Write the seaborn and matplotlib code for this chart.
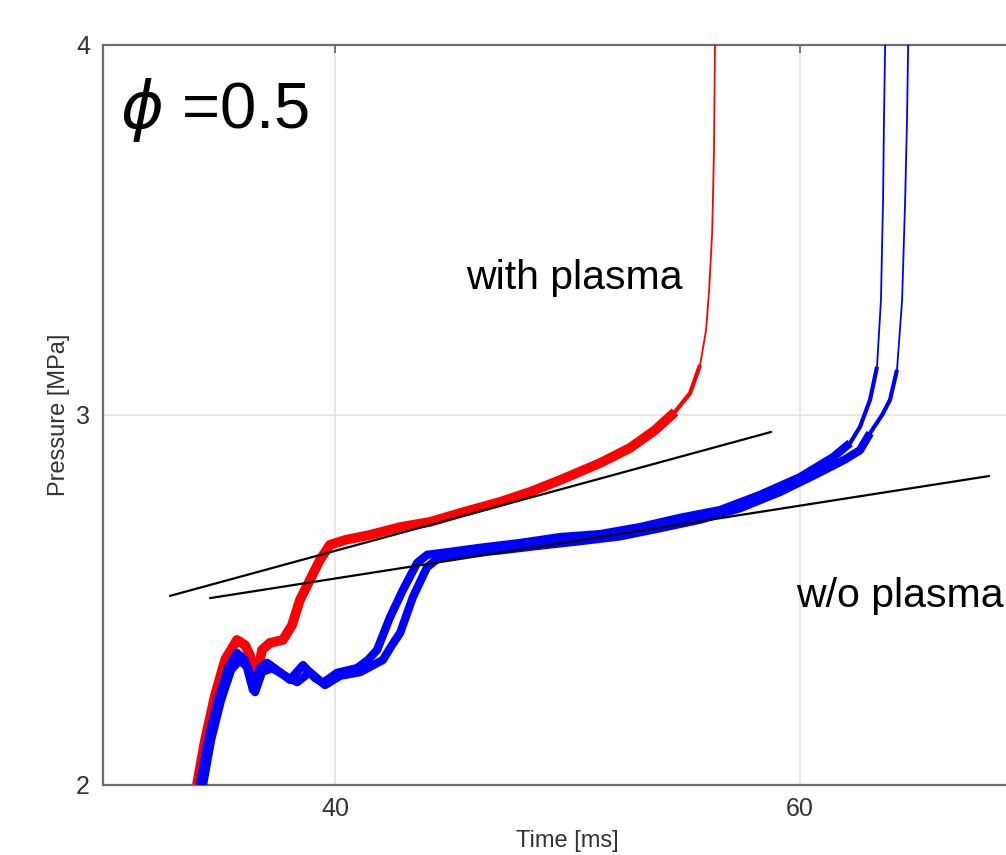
import numpy as np
import pandas as pd
import seaborn as sns
import matplotlib.pyplot as plt

# pressure traces (time in ms, pressure in MPa)
red_t = [34.06, 34.41, 34.84, 35.27, 35.78, 36.13, 36.34, 36.60, 36.86, 37.20, 37.76, 38.15,
         38.49, 38.92, 39.35, 39.78, 40.43, 41.51, 42.80, 44.09, 45.38, 47.10, 48.39, 49.68,
         51.40, 52.69, 53.76, 54.62, 55.27, 55.70, 55.96, 56.09, 56.22, 56.30, 56.34]
red_p = [2.000, 2.122, 2.243, 2.338, 2.392, 2.378, 2.351, 2.284, 2.365, 2.384, 2.392, 2.432,
         2.500, 2.554, 2.608, 2.649, 2.662, 2.676, 2.697, 2.711, 2.735, 2.765, 2.792, 2.824,
         2.870, 2.911, 2.959, 3.008, 3.059, 3.135, 3.230, 3.338, 3.492, 3.716, 4.000]

blueA_t = [34.19, 34.54, 34.97, 35.40, 35.78, 36.13, 36.47, 36.77, 37.08, 37.63, 38.06, 38.62,
           39.14, 39.48, 40.09, 40.95, 41.42, 41.81, 42.37, 42.92, 43.53, 43.96, 44.95, 46.24,
           47.96, 49.68, 51.40, 53.12, 54.84, 56.56, 58.28, 60.00, 61.42, 62.15, 62.58, 63.01,
           63.31, 63.48, 63.57, 63.61, 63.66]
blueA_p = [2.000, 2.122, 2.230, 2.316, 2.357, 2.338, 2.257, 2.316, 2.330, 2.305, 2.284, 2.324,
           2.289, 2.276, 2.303, 2.316, 2.338, 2.365, 2.454, 2.527, 2.600, 2.622, 2.630, 2.641,
           2.654, 2.670, 2.678, 2.697, 2.722, 2.743, 2.784, 2.832, 2.886, 2.924, 2.968, 3.041,
           3.130, 3.311, 3.581, 3.797, 4.000]

blueB_t = [34.32, 34.67, 35.10, 35.53, 35.91, 36.26, 36.56, 36.86, 37.29, 37.85, 38.37, 38.92,
           39.57, 40.22, 41.08, 41.59, 42.06, 42.45, 42.80, 43.35, 43.96, 44.52, 45.38, 47.10,
           48.82, 50.54, 52.26, 53.98, 55.70, 57.42, 59.14, 60.86, 61.94, 62.58, 63.01, 63.53,
           63.87, 64.17, 64.39, 64.52, 64.60, 64.65]
blueB_p = [2.000, 2.122, 2.230, 2.311, 2.338, 2.316, 2.251, 2.305, 2.316, 2.295, 2.278, 2.305,
           2.270, 2.295, 2.305, 2.322, 2.338, 2.378, 2.411, 2.508, 2.589, 2.616, 2.624, 2.634,
           2.647, 2.659, 2.672, 2.694, 2.717, 2.748, 2.792, 2.845, 2.880, 2.905, 2.951, 3.000,
           3.041, 3.122, 3.311, 3.581, 3.797, 4.000]

# tangent lines drawn by hand on the plateau
tan1_t = [32.90, 58.75]
tan1_p = [2.511, 2.954]
tan2_t = [34.62, 68.13]
tan2_p = [2.505, 2.835]

sns.set_style('white')
plt.rcParams['font.family'] = ['Liberation Sans', 'DejaVu Sans']
plt.rcParams['mathtext.fontset'] = 'dejavusans'

fig = plt.figure(figsize=(10.06, 8.55), dpi=100)
ax = fig.add_axes([0.1019, 0.0819, 0.9245, 0.8655])

ax.grid(True, color='#e3e3e3', lw=1.2, zorder=0)

def trace(t, p, color, lw_noisy, cut):
    df = pd.DataFrame({'t': t, 'p': p})
    # noisy plateau part drawn as a thick band, spike part thinner
    for sub, lw in [(df[df.p < cut], lw_noisy), (df[df.p < 3.15], 3), (df, 1.3)]:
        sns.lineplot(data=sub, x='t', y='p', color=color, lw=lw, sort=False,
                     estimator=None, ax=ax, zorder=3,
                     solid_joinstyle='round', solid_capstyle='butt')

trace(red_t, red_p, '#ff0000', 7, 3.02)
trace(blueA_t, blueA_p, '#0000ff', 6, 2.96)
trace(blueB_t, blueB_p, '#0000ff', 6, 2.96)

ax.plot(tan1_t, tan1_p, color='black', lw=1.6, zorder=4)
ax.plot(tan2_t, tan2_p, color='black', lw=1.6, zorder=4)

ax.set_xlim(30, 70)
ax.set_ylim(2, 4)
ax.set_xticks([40, 60])
ax.set_yticks([2, 3, 4])
ax.tick_params(direction='in', length=6, width=1.3, colors='#6e6e6e',
               labelcolor='#333333', labelsize=18, top=True, right=True, pad=9)
for s in ax.spines.values():
    s.set_color('#6e6e6e')
    s.set_linewidth(1.6)

ax.set_xlabel('Time [ms]', fontsize=17, color='#333333', labelpad=6)
ax.set_ylabel('Pressure [MPa]', fontsize=17, color='#333333', labelpad=4)

ax.text(0.0188, 0.888, r'$\phi$ =0.5', transform=ax.transAxes, fontsize=47,
        va='baseline', ha='left', color='black')
ax.text(0.391, 0.670, 'with plasma', transform=ax.transAxes, fontsize=29.5,
        va='baseline', ha='left', color='black')
ax.text(0.7457, 0.2405, 'w/o plasma', transform=ax.transAxes, fontsize=29.5,
        va='baseline', ha='left', color='black')

plt.savefig('out.png', dpi=100)
